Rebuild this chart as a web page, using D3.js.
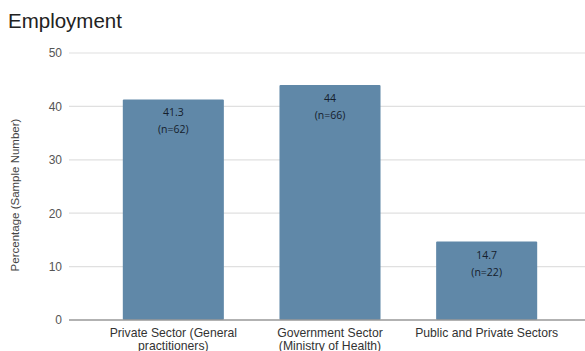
<!DOCTYPE html>
<html><head><meta charset="utf-8">
<script src="https://cdn.jsdelivr.net/npm/d3@7"></script>
<style>body{margin:0;background:#fff}svg{display:block}</style>
</head><body>
<script>
const categories = [["Private Sector (General","practitioners)"],["Government Sector","(Ministry of Health)"],["Public and Private Sectors"]];
const values = [41.3, 44, 14.7];
const sampleN = ["(n=62)", "(n=66)", "(n=22)"];
const valueLabels = ["41.3", "44", "14.7"];
const yTicks = [0, 10, 20, 30, 40, 50];

const W = 585, H = 351;
const svg = d3.select("body").append("svg").attr("width", W).attr("height", H);

const x = d3.scaleBand().domain(d3.range(values.length)).range([95, 565]).paddingInner(0.355).paddingOuter(0.1775);
const y = d3.scaleLinear().domain([0, 50]).range([320, 53]);

svg.append("text").attr("x", 8).attr("y", 28).text("Employment")
  .attr("font-family", "Liberation Sans, Arial, sans-serif").attr("font-size", 20.5).attr("fill", "#222");

// gridlines
svg.append("g").selectAll("line").data(yTicks.filter(d => d > 0)).join("line")
  .attr("x1", 69).attr("x2", 585).attr("y1", d => y(d)).attr("y2", d => y(d))
  .attr("stroke", "#e0e0e0").attr("stroke-width", 1.2);

// y axis labels
const yAxis = svg.append("g").attr("transform", "translate(69,0)")
  .call(d3.axisLeft(y).tickValues(yTicks).tickSize(0).tickPadding(7));
yAxis.select(".domain").remove();
yAxis.selectAll("text").attr("font-family", "Liberation Sans, Arial, sans-serif").attr("font-size", 12).attr("fill", "#555");

svg.append("text").attr("transform", "translate(19,195) rotate(-90)").attr("text-anchor", "middle")
  .text("Percentage (Sample Number)")
  .attr("font-family", "Liberation Sans, Arial, sans-serif").attr("font-size", 11.5).attr("fill", "#444");

// bars
svg.append("g").selectAll("rect").data(values).join("rect")
  .attr("x", (d, i) => x(i)).attr("width", x.bandwidth())
  .attr("y", d => y(d)).attr("height", d => y(0) - y(d))
  .attr("fill", "#6088a8").attr("rx", 1);

// baseline
svg.append("line").attr("x1", 69).attr("x2", 585).attr("y1", y(0)).attr("y2", y(0))
  .attr("stroke", "#999").attr("stroke-width", 1.3);

// value labels
const lbl = svg.append("g").attr("font-family", "Open Sans, sans-serif").attr("font-size", 10.5).attr("fill", "#15202c").attr("text-anchor", "middle");
lbl.selectAll("text.v").data(values).join("text").attr("class", "v")
  .attr("x", (d, i) => x(i) + x.bandwidth() / 2).attr("y", d => y(d) + 17).text((d, i) => valueLabels[i]);
lbl.selectAll("text.n").data(values).join("text").attr("class", "n")
  .attr("x", (d, i) => x(i) + x.bandwidth() / 2).attr("y", d => y(d) + 34).text((d, i) => sampleN[i]);

// category labels
const cat = svg.append("g").attr("font-family", "Liberation Sans, Arial, sans-serif").attr("font-size", 12.2).attr("fill", "#333").attr("text-anchor", "middle");
categories.forEach((lines, i) => {
  const t = cat.append("text").attr("x", x(i) + x.bandwidth() / 2).attr("y", 337);
  lines.forEach((l, j) => t.append("tspan").attr("x", x(i) + x.bandwidth() / 2).attr("dy", j ? 13 : 0).text(l));
});
</script>
</body></html>
